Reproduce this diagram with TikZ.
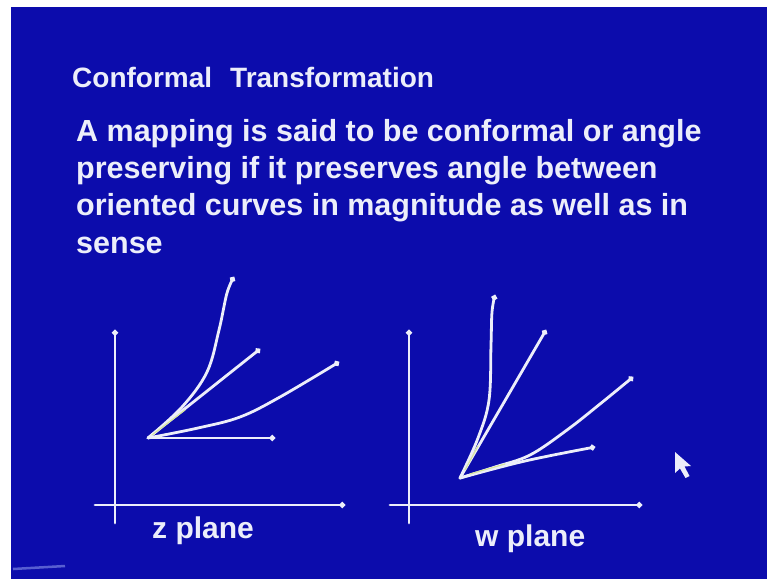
\documentclass[tikz,border=0pt]{standalone}
\usepackage{fontspec}
\setmainfont{Liberation Sans}
\usetikzlibrary{arrows.meta}
\definecolor{slideblue}{RGB}{12,12,172}
\definecolor{chalk}{RGB}{236,238,250}
\definecolor{tint}{RGB}{215,230,160}
\begin{document}
\begin{tikzpicture}[x=1pt,y=-1pt,
  txt/.style={anchor=base west,text=chalk,inner sep=0pt,font=\fontsize{30.5}{36}\selectfont\bfseries},
  ttl/.style={anchor=base west,text=chalk,inner sep=0pt,font=\fontsize{28}{32}\selectfont\bfseries},
  lbl/.style={anchor=base west,text=chalk,inner sep=0pt,font=\fontsize{30}{36}\selectfont\bfseries},
  axis/.style={draw=chalk,line width=2.8pt,line cap=round},
  curve/.style={draw=chalk,line width=2.8pt,line cap=round},
  tip/.style={-{Circle[length=5.5pt,width=5.5pt]}}]
\useasboundingbox (0,0) rectangle (767,579);
\fill[white] (0,0) rectangle (767,579);
\fill[slideblue] (11,7) rectangle (767,579);
% texts
\node[ttl] (title) at (72,87) {Conformal\hspace{18pt}Transformation};
\node[txt] (l1) at (76,141) {A mapping is said to be conformal or angle};
\node[txt] (l2) at (76,178) {preserving if it preserves angle between};
\node[txt] (l3) at (76,215) {oriented curves in magnitude as well as in};
\node[txt] (l4) at (76,253) {sense};
% z plane
\coordinate (zyt) at (115,330);
\coordinate (zyb) at (115,523);
\coordinate (zxl) at (95,505);
\coordinate (zxr) at (345,505);
\draw[axis,tip] (zyb) -- (zyt);
\draw[axis,tip] (zxl) -- (zxr);
\coordinate (zO) at (148,438);
\coordinate (zA) at (275,438);
\coordinate (zB) at (260,349);
\draw[curve,tip] (zO) -- (zA);
\draw[curve,tip] (zO) -- (zB);
\draw[curve,tip] plot[smooth,tension=0.6] coordinates {(148,438) (182,407) (207,372) (219,330) (227,293) (234,277)};
\draw[curve,tip] plot[smooth,tension=0.6] coordinates {(148,438) (198,428) (240,417) (280,397) (339,362)};
\draw[tint,line width=1.2pt,line cap=round] (152,435) -- (185,410);
\node[lbl] (zlab) at (152,538) {z plane};
% w plane
\coordinate (wyt) at (409,330);
\coordinate (wyb) at (409,523);
\coordinate (wxl) at (390,505);
\coordinate (wxr) at (642,505);
\draw[axis,tip] (wyb) -- (wyt);
\draw[axis,tip] (wxl) -- (wxr);
\coordinate (wO) at (460,478);
\coordinate (wB) at (546,330);
\draw[curve,tip] (wO) -- (wB);
\draw[curve,tip] plot[smooth,tension=0.6] coordinates {(460,478) (478,438) (489,400) (491,345) (492,312) (495,295)};
\draw[curve,tip] plot[smooth,tension=0.6] coordinates {(460,478) (495,467) (530,455) (567,430) (600,404) (633,377)};
\draw[curve,tip] plot[smooth,tension=0.6] coordinates {(460,478) (525,461) (595,447)};
\draw[tint,line width=1.2pt,line cap=round] (465,470) -- (478,446);
\draw[tint,line width=1.2pt,line cap=round] (470,474) -- (505,464);
\node[lbl] (wlab) at (475,546) {w plane};
% mouse cursor
\fill[chalk] (675,452) -- (675,473) -- (680,468.5) -- (685.5,478) -- (689.5,476) -- (684.5,466.5) -- (691,466) -- cycle;
% logo remnant bottom left
\draw[color={rgb,255:red,120;green,130;blue,225},line width=2.5pt,opacity=0.7] (13,569) -- (65,566);
\end{tikzpicture}
\end{document}
